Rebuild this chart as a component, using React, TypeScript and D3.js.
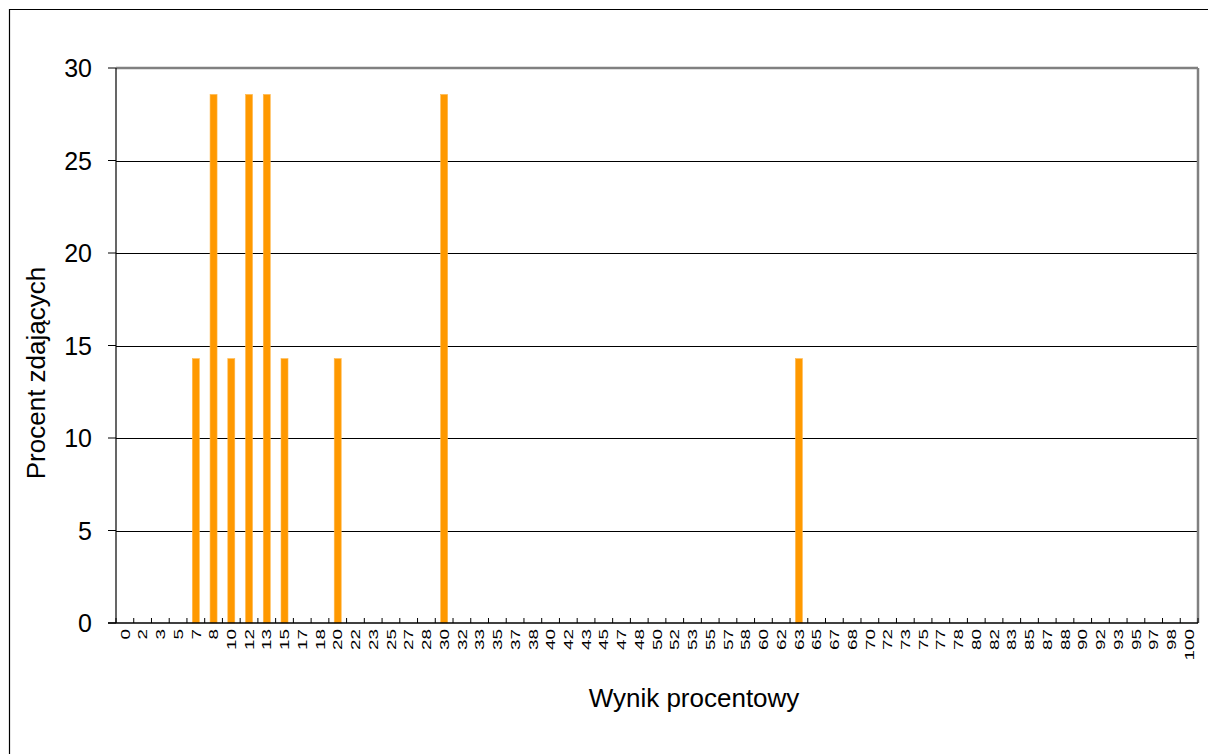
import React from "react";
import * as d3 from "d3";

const categories: string[] = ["0","2","3","5","7","8","10","12","13","15","17","18","20","22","23","25","27","28","30","32","33","35","37","38","40","42","43","45","47","48","50","52","53","55","57","58","60","62","63","65","67","68","70","72","73","75","77","78","80","82","83","85","87","88","90","92","93","95","97","98","100"];
const nonZeroCats: string[] = ["7","8","10","12","13","15","20","30","63"];
const nonZeroVals: number[] = [14.29,28.57,14.29,28.57,28.57,14.29,14.29,28.57,14.29];
const yTicks: number[] = [0,5,10,15,20,25,30];

const values: number[] = categories.map(c => {
  const i = nonZeroCats.indexOf(c);
  return i >= 0 ? nonZeroVals[i] : 0;
});

export default function App() {
  const W = 1208, H = 754;
  const left = 116, right = 1198, top = 68, bottom = 623;
  const x = d3.scaleBand<string>().domain(categories).range([left, right]).padding(0);
  const y = d3.scaleLinear().domain([0, 30]).range([bottom, top]);
  const bw = 7;
  const font = "Arial, 'Liberation Sans', sans-serif";
  const boundaries = d3.range(categories.length + 1).map(i => left + i * x.step());
  return (
    <svg width={W} height={H} style={{ position: "absolute", left: 0, top: 0, background: "#fff" }}>
      <rect x={0} y={0} width={W} height={H} fill="#fff" />
      <path d={`M9.5,${H} L9.5,9.5 L${W},9.5`} fill="none" stroke="#000" strokeWidth={1.2} />
      {yTicks.filter(t => t > 0 && t < 30).map(t => (
        <line key={t} x1={left} x2={right} y1={Math.round(y(t)) + 0.5} y2={Math.round(y(t)) + 0.5} stroke="#000" strokeWidth={1} />
      ))}
      <line x1={left} x2={right} y1={top} y2={top} stroke="#808080" strokeWidth={2.5} />
      <line x1={right} x2={right} y1={top} y2={bottom} stroke="#808080" strokeWidth={2.5} />
      {values.map((v, i) => v > 0 ? (
        <rect key={i} x={(x(categories[i]) as number) + x.bandwidth() / 2 - bw / 2} y={y(v)} width={bw} height={bottom - y(v)} fill="#FF9900" stroke="#FFB84D" strokeWidth={0.6} />
      ) : null)}
      <line x1={left} x2={left} y1={top} y2={bottom} stroke="#000" strokeWidth={1.2} />
      <line x1={left - 8} x2={right} y1={bottom} y2={bottom} stroke="#000" strokeWidth={1.5} />
      {yTicks.map(t => (
        <g key={t}>
          <line x1={left - 8} x2={left} y1={y(t)} y2={y(t)} stroke="#000" strokeWidth={1} />
          <text x={92} y={y(t)} dy="0.36em" textAnchor="end" fontFamily={font} fontSize={25} fill="#000">{t}</text>
        </g>
      ))}
      {boundaries.map((b, i) => (
        <line key={i} x1={b} x2={b} y1={bottom} y2={bottom - 5} stroke="#000" strokeWidth={1} />
      ))}
      {categories.map(c => {
        const cx = (x(c) as number) + x.bandwidth() / 2;
        return (
          <text key={c} transform={`translate(${cx},${bottom + 6}) rotate(-90) scale(1.45,1)`} textAnchor="end" dy="0.36em" fontFamily={font} fontSize={13} fill="#000">{c}</text>
        );
      })}
      <text transform={`translate(45,373) rotate(-90)`} textAnchor="middle" fontFamily={font} fontSize={26} fill="#000">Procent zdających</text>
      <text x={694} y={707} textAnchor="middle" fontFamily={font} fontSize={26} fill="#000">Wynik procentowy</text>
    </svg>
  );
}
